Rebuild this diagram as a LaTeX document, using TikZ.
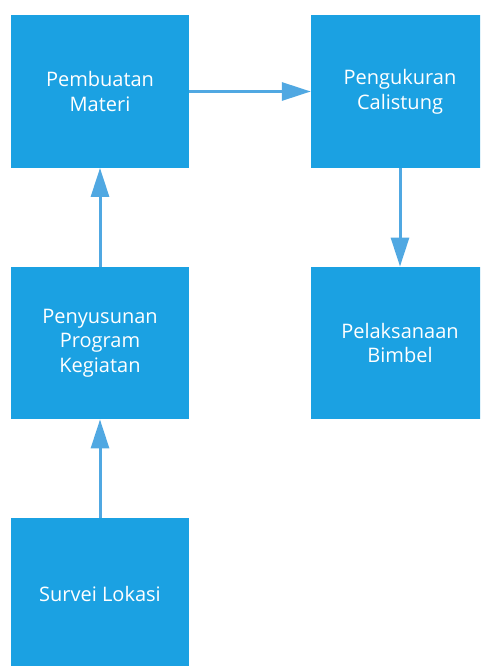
\documentclass[tikz,border=0pt]{standalone}
\usepackage{fontspec}
\setmainfont{Open Sans}
\usetikzlibrary{arrows.meta}
\definecolor{boxblue}{RGB}{27,161,226}
\definecolor{arrowblue}{RGB}{80,168,226}
\tikzset{
  stepbox/.style={rectangle, fill=boxblue, draw=none, inner sep=0pt,
    minimum width=178pt, minimum height=152.5pt, align=center, text=white,
    font=\fontsize{20pt}{24.7pt}\selectfont},
  conn/.style={draw=arrowblue, line width=3pt,
    -{Triangle[length=29pt,width=18pt,fill=arrowblue]}}
}
\begin{document}
\begin{tikzpicture}[x=1pt,y=1pt]
\clip (0,0) rectangle (480,-666);
\fill[white] (0,0) rectangle (480,-666);
\node[stepbox] (materi) at (100,-91.5) {Pembuatan\\Materi};
\node[stepbox] (ukur) at (400,-91.5) {Pengukuran\\Calistung};
\node[stepbox] (susun) at (100,-343) {Penyusunan\\Program\\Kegiatan};
\node[stepbox] (laksana) at (400,-343) {Pelaksanaan\\Bimbel};
\node[stepbox] (survei) at (100,-594) {Survei Lokasi};
\draw[conn] (materi.east) -- (ukur.west);
\draw[conn] (ukur.south) -- (laksana.north);
\draw[conn] (susun.north) -- (materi.south);
\draw[conn] (survei.north) -- (susun.south);
\end{tikzpicture}
\end{document}
